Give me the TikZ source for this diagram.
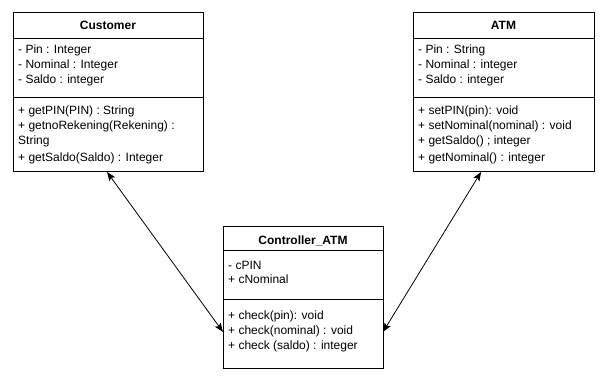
\documentclass[tikz,border=0pt]{standalone}
\usepackage{fontspec}
\setmainfont{Liberation Sans}
\usetikzlibrary{arrows.meta,calc}
\begin{document}
\begin{tikzpicture}[x=1pt,y=-1pt,
  classbox/.style={draw,line width=1pt,inner sep=0pt,outer sep=0pt,anchor=north west},
  txt/.style={anchor=base west,inner sep=0pt,font=\fontsize{12}{15}\selectfont},
  ttl/.style={anchor=base,inner sep=0pt,font=\fontsize{12}{15}\selectfont\bfseries},
  divider/.style={line width=1pt},
  assoc/.style={line width=0.8pt,
    {Stealth[length=9pt,width=7pt,inset=2pt]}-{Stealth[length=9pt,width=7pt,inset=2pt]}}
]
\useasboundingbox (0,0) rectangle (607,382);

% Customer class
\node[classbox,minimum width=190pt,minimum height=159pt] (cust) at (13,13) {};
\draw[divider] ($(cust.north west)+(0,26)$) -- ($(cust.north east)+(0,26)$);
\draw[divider] ($(cust.north west)+(0,85)$) -- ($(cust.north east)+(0,85)$);
\node[ttl] (cust-title) at (108,30) {Customer};
\node[txt] (cust-a1) at (18,54) {- Pin : Integer};
\node[txt] (cust-a2) at (18,69) {- Nominal : Integer};
\node[txt] (cust-a3) at (18,84) {- Saldo : integer};
\node[txt] (cust-m1) at (18,115) {+ getPIN(PIN) : String};
\node[txt] (cust-m2) at (18,130) {+ getnoRekening(Rekening) :};
\node[txt] (cust-m3) at (18,145) {String};
\node[txt] (cust-m4) at (18,161) {+ getSaldo(Saldo) : Integer};

% ATM class
\node[classbox,minimum width=181pt,minimum height=159pt] (atm) at (413,13) {};
\draw[divider] ($(atm.north west)+(0,26)$) -- ($(atm.north east)+(0,26)$);
\draw[divider] ($(atm.north west)+(0,85)$) -- ($(atm.north east)+(0,85)$);
\node[ttl] (atm-title) at (503.5,30) {ATM};
\node[txt] (atm-a1) at (418,54) {- Pin : String};
\node[txt] (atm-a2) at (418,69) {- Nominal : integer};
\node[txt] (atm-a3) at (418,84) {- Saldo : integer};
\node[txt] (atm-m1) at (418,115) {+ setPIN(pin): void};
\node[txt] (atm-m2) at (418,130) {+ setNominal(nominal) : void};
\node[txt] (atm-m3) at (418,145) {+ getSaldo() ; integer};
\node[txt] (atm-m4) at (418,161) {+ getNominal() : integer};

% Controller_ATM class
\node[classbox,minimum width=160pt,minimum height=142pt] (ctrl) at (223,226) {};
\draw[divider] ($(ctrl.north west)+(0,24)$) -- ($(ctrl.north east)+(0,24)$);
\draw[divider] ($(ctrl.north west)+(0,73)$) -- ($(ctrl.north east)+(0,73)$);
\node[ttl] (ctrl-title) at (303,244) {Controller\_ATM};
\node[txt] (ctrl-a1) at (228,269) {- cPIN};
\node[txt] (ctrl-a2) at (228,283) {+ cNominal};
\node[txt] (ctrl-m1) at (228,319) {+ check(pin): void};
\node[txt] (ctrl-m2) at (228,334) {+ check(nominal) : void};
\node[txt] (ctrl-m3) at (228,349) {+ check (saldo) : integer};

% Associations
\coordinate (cust-end) at ($(cust.south west)!0.495!(cust.south east)$);
\coordinate (atm-end) at ($(atm.south west)!0.376!(atm.south east)$);
\coordinate (ctrl-left) at ($(ctrl.north west)!0.746!(ctrl.south west)$);
\coordinate (ctrl-right) at ($(ctrl.north east)!0.746!(ctrl.south east)$);
\draw[assoc] (cust-end) -- (ctrl-left);
\draw[assoc] (atm-end) -- (ctrl-right);
\end{tikzpicture}
\end{document}
